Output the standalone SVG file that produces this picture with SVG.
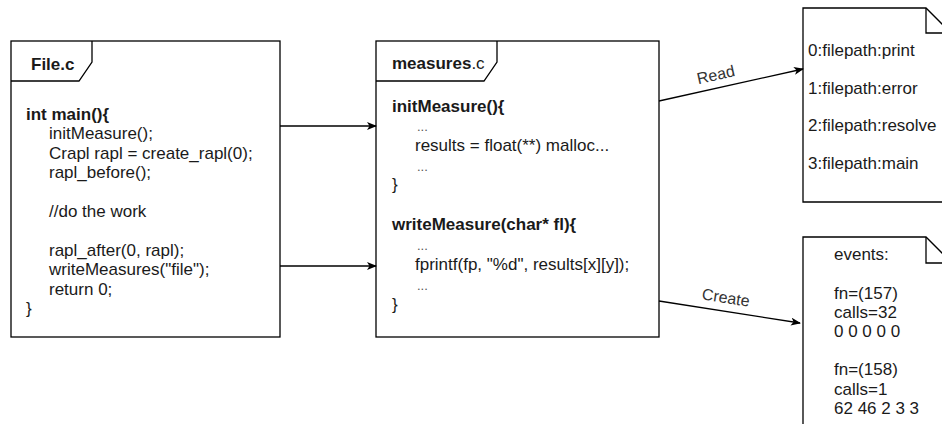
<svg xmlns="http://www.w3.org/2000/svg" width="942" height="424" viewBox="0 0 942 424">
  <style>
    .shape { fill: #ffffff; stroke: #000000; stroke-width: 1.3; }
    .fold { fill: none; stroke: #000000; stroke-width: 1.3; }
    .edge { fill: none; stroke: #000000; stroke-width: 1.3; }
    text { font-family: "Liberation Sans", Arial, Helvetica, sans-serif; font-size: 17px; fill: #1a1a1a; }
    .b { font-weight: bold; }
    .dots { font-size: 13px; fill: #555555; }
    .lbl { font-size: 16px; fill: #333333; text-anchor: middle; }
  </style>
  <defs>
    <marker id="arrow" viewBox="0 0 10 8" refX="9" refY="4" markerWidth="10" markerHeight="8" markerUnits="userSpaceOnUse" orient="auto">
      <path d="M0,0 L10,4 L0,8 L2.5,4 Z" fill="#000000"/>
    </marker>
  </defs>

  <rect width="942" height="424" fill="#ffffff"/>

  <!-- File.c frame -->
  <g id="file-c">
    <rect class="shape" x="11" y="41" width="269" height="296"/>
    <path class="fold" d="M11,81 H79 L92,62 V41"/>
    <text class="b" x="31" y="70">File.c</text>
    <text class="b" x="26" y="120">int main(){</text>
    <text x="49" y="139.4">initMeasure();</text>
    <text x="49" y="158.8">Crapl rapl = create_rapl(0);</text>
    <text x="49" y="178.2">rapl_before();</text>
    <text x="49" y="217">//do the work</text>
    <text x="49" y="255.8">rapl_after(0, rapl);</text>
    <text x="49" y="275.2">writeMeasures("file");</text>
    <text x="49" y="294.6">return 0;</text>
    <text x="26" y="314">}</text>
  </g>

  <!-- measures.c frame -->
  <g id="measures-c">
    <rect class="shape" x="376" y="41" width="283" height="296"/>
    <path class="fold" d="M376,81 H484 L497,62 V41"/>
    <text x="392" y="69"><tspan class="b">measures</tspan>.c</text>
    <text class="b" x="392" y="112">initMeasure(){</text>
    <text class="dots" x="417" y="131">...</text>
    <text x="415" y="151">results = float(**) malloc...</text>
    <text class="dots" x="417" y="170.5">...</text>
    <text x="392" y="190">}</text>
    <text class="b" x="392" y="230">writeMeasure(char* fl){</text>
    <text class="dots" x="417" y="250">...</text>
    <text x="415" y="270">fprintf(fp, "%d", results[x][y]);</text>
    <text class="dots" x="417" y="290">...</text>
    <text x="392" y="310">}</text>
  </g>

  <!-- file path listing -->
  <g id="paths-doc">
    <path class="shape" d="M803,8 H926 L951,33 V202 H803 Z"/>
    <path class="fold" d="M926,8 V33 H951"/>
    <text x="808" y="56">0:filepath:print</text>
    <text x="808" y="93.5">1:filepath:error</text>
    <text x="808" y="131">2:filepath:resolve</text>
    <text x="808" y="168.5">3:filepath:main</text>
  </g>

  <!-- events output -->
  <g id="events-doc">
    <path class="shape" d="M803,237 H926 L952,263 V440 H803 Z"/>
    <path class="fold" d="M926,237 V263 H952"/>
    <text x="834" y="260">events:</text>
    <text x="834" y="298.5">fn=(157)</text>
    <text x="834" y="317.5">calls=32</text>
    <text x="834" y="337">0 0 0 0 0</text>
    <text x="834" y="375">fn=(158)</text>
    <text x="834" y="394.5">calls=1</text>
    <text x="834" y="414">62 46 2 3 3</text>
  </g>

  <!-- connectors -->
  <g id="connectors">
    <line class="edge" x1="280" y1="126" x2="376" y2="126" marker-end="url(#arrow)"/>
    <line class="edge" x1="280" y1="266" x2="376" y2="266" marker-end="url(#arrow)"/>
    <line class="edge" x1="659" y1="101" x2="803" y2="69" marker-end="url(#arrow)"/>
    <line class="edge" x1="659" y1="301" x2="800" y2="323" marker-end="url(#arrow)"/>
    <text class="lbl" transform="translate(717,80) rotate(-12.5)">Read</text>
    <text class="lbl" transform="translate(725,303) rotate(8.9)">Create</text>
  </g>
</svg>
